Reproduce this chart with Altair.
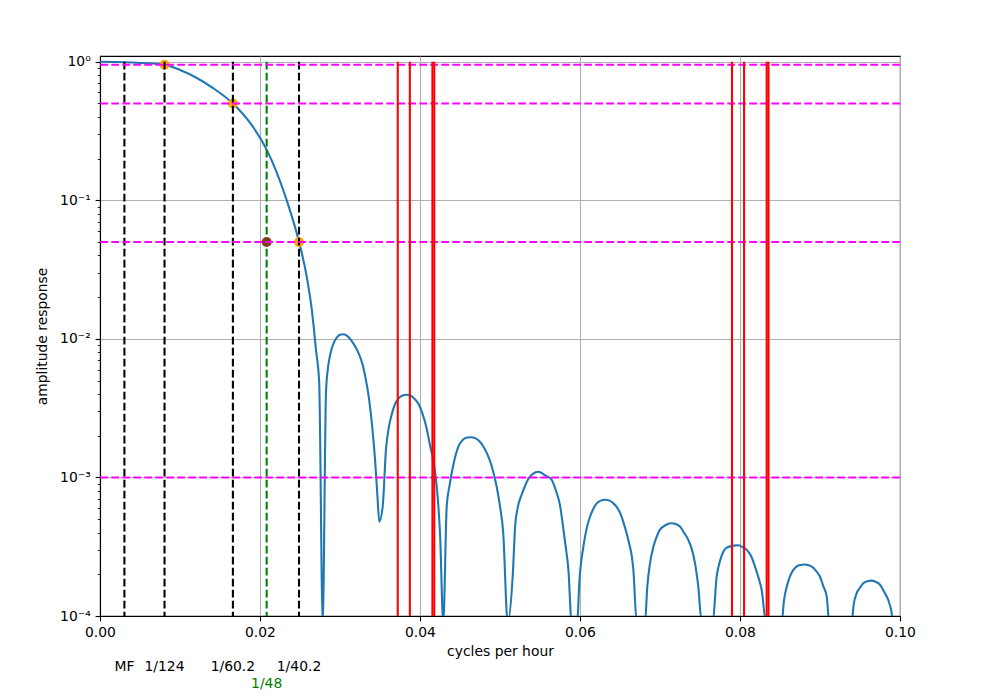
import altair as alt
import pandas as pd

# ---- filter amplitude response ----
freq = [0.0, 0.002, 0.004, 0.006, 0.0081, 0.010, 0.012, 0.014, 0.01661, 0.01875,
        0.02083, 0.022, 0.02334, 0.02488, 0.0258, 0.0265, 0.027, 0.0274,
        0.02784,
        0.02825, 0.0285, 0.0288, 0.0292, 0.0296, 0.0300, 0.0304, 0.0308, 0.0312,
        0.0316, 0.0320, 0.0324, 0.0328, 0.0332, 0.0336, 0.0340, 0.0344, 0.0347,
        0.03491,
        0.03534, 0.03575, 0.0361, 0.0365, 0.0369, 0.0373, 0.0378, 0.0383, 0.0388,
        0.0393, 0.0398, 0.0403, 0.0408, 0.0413, 0.0417, 0.0421, 0.0425,
        0.04291,
        0.04334, 0.0437, 0.0441, 0.0445, 0.0449, 0.0454, 0.0459, 0.0464, 0.0469,
        0.0474, 0.0479, 0.0484, 0.0489, 0.0496, 0.0500, 0.0504,
        0.05096,
        0.0516, 0.0519, 0.0522, 0.0527, 0.0531, 0.0536, 0.0541, 0.0548, 0.0556,
        0.05646, 0.0570, 0.0575, 0.0578, 0.0582, 0.05854,
        0.05896, 0.05966,
        0.0599, 0.06042, 0.0608, 0.06125, 0.0617, 0.06209, 0.0626, 0.063125, 0.0637,
        0.06417, 0.0647, 0.06521, 0.0656, 0.06604, 0.06667,
        0.06709, 0.06813,
        0.0684, 0.06875, 0.0692, 0.06959, 0.0700, 0.07041, 0.0709, 0.07146, 0.0720,
        0.0725, 0.0730, 0.07354, 0.0740, 0.07438, 0.0748,
        0.07521, 0.07659,
        0.07708, 0.0775, 0.07791, 0.0783, 0.0792, 0.07979, 0.0803, 0.08084, 0.0814,
        0.081875, 0.0823, 0.08271,
        0.08325, 0.08521,
        0.0855, 0.08584, 0.0862, 0.08667, 0.0871, 0.0875, 0.08813, 0.0886, 0.08896,
        0.0895, 0.0900, 0.0904, 0.09084,
        0.09116, 0.09396,
        0.0942, 0.09459, 0.0950, 0.09541, 0.0959, 0.09646, 0.0970, 0.0975, 0.0980,
        0.09854, 0.0989,
        0.09916, 0.1]
amp = [1.0, 0.996, 0.988, 0.974, 0.951, 0.872, 0.770, 0.653, 0.5, 0.363,
       0.232, 0.164, 0.10, 0.05, 0.029, 0.0158, 0.0083, 0.0048,
       9e-5,
       0.0041, 0.0062, 0.0078, 0.0093, 0.0102, 0.0107, 0.0108, 0.0106, 0.0101,
       0.0094, 0.0086, 0.0077, 0.0066, 0.0052, 0.0038, 0.0024, 0.0013, 0.0007,
       0.00048,
       0.00062, 0.0016, 0.0023, 0.0029, 0.0034, 0.0037, 0.0039, 0.00395, 0.0039,
       0.0037, 0.0034, 0.0029, 0.0023, 0.00165, 0.0013, 0.00085, 0.0004,
       9e-5,
       0.00062, 0.00088, 0.00118, 0.00148, 0.00172, 0.00188, 0.00194, 0.00195, 0.00192,
       0.00183, 0.00168, 0.00148, 0.00124, 0.00085, 0.00062, 0.0004,
       9e-5,
       0.0002, 0.00045, 0.0006, 0.00075, 0.00086, 0.00099, 0.00106, 0.0011, 0.00104,
       0.00096, 0.0008, 0.00063, 0.00048, 0.00032, 0.00022,
       9e-5, 9e-5,
       0.00017, 0.000316, 0.00042, 0.00052, 0.0006, 0.00065, 0.00068, 0.00069, 0.00068,
       0.00065, 0.0006, 0.00052, 0.00044, 0.000354, 0.000215,
       9e-5, 9e-5,
       0.00016, 0.00024, 0.00032, 0.000374, 0.00042, 0.000442, 0.00046, 0.000467, 0.00046,
       0.000442, 0.0004, 0.000354, 0.0003, 0.00024, 0.00016,
       9e-5, 9e-5,
       0.000192, 0.00025, 0.000291, 0.00031, 0.000322, 0.000324, 0.000315, 0.0003, 0.00027,
       0.000227, 0.00019, 0.000154,
       9e-5, 9e-5,
       0.00013, 0.000162, 0.00019, 0.000215, 0.000228, 0.000233, 0.000235, 0.000232, 0.000227,
       0.000212, 0.000192, 0.000165, 0.000138,
       9e-5, 9e-5,
       0.00012, 0.000146, 0.00016, 0.000172, 0.000178, 0.00018, 0.000176, 0.000168, 0.00015,
       0.00013, 0.00011,
       9e-5, 9e-5]

# ---- markers ----
cut_x = [1 / 124, 1 / 60.2, 1 / 40.2]
cut_y = [0.95, 0.5, 0.05]
special_x = [1 / 48]
special_y = [0.05]

# ---- reference lines ----
black_x = [1 / 327.86, 1 / 124, 1 / 60.2, 1 / 40.2]
black_names = ["MF", "1/124", "1/60.2", "1/40.2"]
green_x = [1 / 48]
green_names = ["1/48"]
red_x = [1 / 26.868, 1 / 25.819, 1 / 24.066, 1 / 23.934,
         1 / 12.658, 1 / 12.421, 1 / 12.0, 1 / 11.967]
h_levels = [0.95, 0.5, 0.05, 0.001]

x_ticks = [0.0, 0.02, 0.04, 0.06, 0.08, 0.10]
y_ticks = [1.0, 0.1, 0.01, 0.001, 0.0001]
y_minor = [m * 10.0 ** e for e in (-4, -3, -2, -1) for m in range(2, 10)]

df_curve = pd.DataFrame({"f": freq, "a": amp})
df_cut = pd.DataFrame({"f": cut_x, "a": cut_y})
df_special = pd.DataFrame({"f": special_x, "a": special_y})
df_black = pd.DataFrame({"f": black_x, "name": black_names})
df_green = pd.DataFrame({"f": green_x, "name": green_names})
df_red = pd.DataFrame({"f": red_x})
df_h = pd.DataFrame({"h": h_levels})

FONT = "DejaVu Sans"
xs = alt.Scale(domain=[0, 0.1], nice=False, zero=False)
ys = alt.Scale(type="log", domain=[1e-4, 1.1], nice=False)
DASH = [7.7, 3.3]
LW = 2.08

ylabel = ("datum.value > 0.5 ? '10⁰' : datum.value > 0.05 ? '10⁻¹' : "
          "datum.value > 0.005 ? '10⁻²' : datum.value > 0.0005 ? '10⁻³' : '10⁻⁴'")

curve = alt.Chart(df_curve).mark_line(color="#1f77b4", strokeWidth=LW, clip=True,
                                      interpolate="monotone").encode(
    x=alt.X("f:Q", scale=xs, axis=alt.Axis(values=x_ticks, format=".2f",
                                           title="cycles per hour", grid=True,
                                           labelFlush=False, titlePadding=5)),
    y=alt.Y("a:Q", scale=ys, axis=alt.Axis(values=y_ticks, labelExpr=ylabel,
                                           title="amplitude response", grid=True,
                                           orient="left", titlePadding=10)),
)

cut_pts = alt.Chart(df_cut).mark_circle(color="orange", size=100, opacity=1).encode(
    x=alt.X("f:Q", scale=xs), y=alt.Y("a:Q", scale=ys, axis=None))
special_pt = alt.Chart(df_special).mark_circle(color="#a52a2a", size=100, opacity=1).encode(
    x=alt.X("f:Q", scale=xs), y=alt.Y("a:Q", scale=ys, axis=None))

black_rules = alt.Chart(df_black).mark_rule(color="black", strokeWidth=LW,
                                            strokeDash=DASH, clip=True).encode(
    x=alt.X("f:Q", scale=xs),
    y=alt.Y(datum=1.0, scale=ys, axis=None), y2=alt.Y2(datum=1e-4))
green_rules = alt.Chart(df_green).mark_rule(color="green", strokeWidth=LW,
                                            strokeDash=DASH, clip=True).encode(
    x=alt.X("f:Q", scale=xs),
    y=alt.Y(datum=1.0, scale=ys, axis=None), y2=alt.Y2(datum=1e-4))
h_rules = alt.Chart(df_h).mark_rule(color="magenta", strokeWidth=LW,
                                    strokeDash=DASH).encode(
    y=alt.Y("h:Q", scale=ys,
            axis=alt.Axis(values=y_minor, labels=False, grid=False, domain=False,
                          title=None, tickSize=2.8, tickWidth=0.83, orient="left")))
red_rules = alt.Chart(df_red).mark_rule(color="red", strokeWidth=LW, clip=True).encode(
    x=alt.X("f:Q", scale=xs),
    y=alt.Y(datum=1.0, scale=ys, axis=None), y2=alt.Y2(datum=1e-4))

black_text = alt.Chart(df_black).mark_text(font=FONT, fontSize=13.9, color="black",
                                           baseline="middle", align="center").encode(
    x=alt.X("f:Q", scale=xs), y=alt.value(611), text="name:N")
green_text = alt.Chart(df_green).mark_text(font=FONT, fontSize=13.9, color="green",
                                           baseline="middle", align="center").encode(
    x=alt.X("f:Q", scale=xs), y=alt.value(628), text="name:N")

chart = alt.layer(
    curve, cut_pts, special_pt, black_rules, green_rules, h_rules, red_rules,
    black_text, green_text
).resolve_axis(y="independent").properties(
    width=800, height=560,
    autosize=alt.AutoSizeParams(type="none"),
    padding={"left": 100, "top": 56, "right": 100, "bottom": 84},
    background="white",
).configure_view(
    stroke="black", strokeWidth=1.1
).configure_axis(
    labelFont=FONT, labelFontSize=13.9, labelColor="black",
    titleFont=FONT, titleFontSize=13.9, titleFontWeight="normal", titleColor="black",
    tickColor="black", tickSize=4.9, tickWidth=1.1,
    domainColor="black", domainWidth=1.1,
    gridColor="#b0b0b0", gridWidth=1.1,
    labelPadding=4.9,
)

chart.save("out.html", embed_options={"renderer": "svg", "actions": False})
